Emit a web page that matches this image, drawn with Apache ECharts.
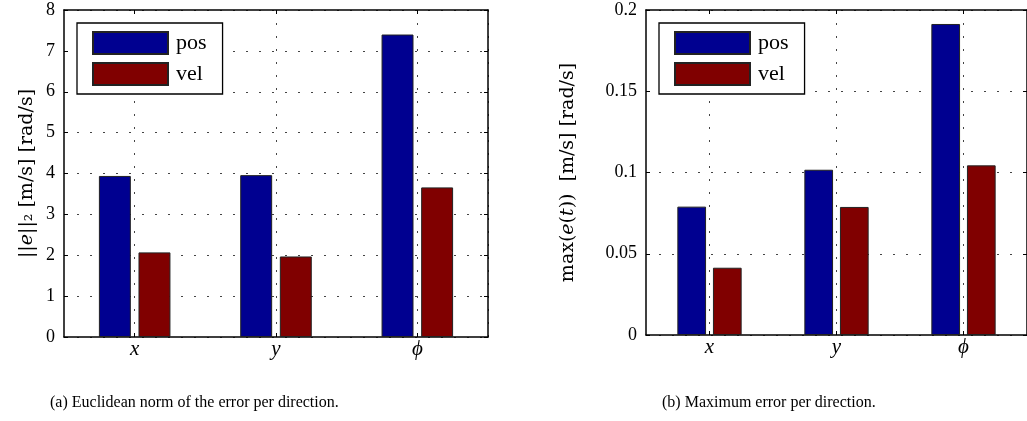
<!DOCTYPE html>
<html>
<head>
<meta charset="utf-8">
<script src="https://cdn.jsdelivr.net/npm/echarts@6/dist/echarts.min.js"></script>
<style>
html,body{margin:0;padding:0;background:#fff;}
#c{width:1027px;height:421px;}
</style>
</head>
<body>
<div id="c"></div>
<script>
var categories = ['x', 'y', 'ϕ'];
var seriesNames = ['pos', 'vel'];
var normPos = [3.94, 3.96, 7.40];
var normVel = [2.07, 1.97, 3.66];
var maxPos = [0.0790, 0.1017, 0.1914];
var maxVel = [0.0414, 0.0788, 0.1044];
var captionA = '(a) Euclidean norm of the error per direction.';
var captionB = '(b) Maximum error per direction.';

var SERIF = '"Liberation Serif", "DejaVu Serif", serif';
var NAMEFONT = '"DejaVu Serif", serif';
var colors = ['#000090', '#800000'];
var gridDash = {type: [2, 11], color: '#444', width: 1};

// half-band helper categories: split lines drawn at the centres of the real categories
var halfCats = [];
categories.forEach(function (c) { halfCats.push(c + '-l', c + '-r'); });

function mkX(gi, pos) {
  return {
    type: 'category', gridIndex: gi, data: categories, position: pos,
    axisLine: {show: true, onZero: false, lineStyle: {color: '#000', width: 1.5}},
    axisTick: {show: true, inside: true, alignWithLabel: true, length: 4, lineStyle: {color: '#000'}},
    axisLabel: pos === 'bottom' ? {show: true, fontFamily: SERIF, fontStyle: 'italic', fontSize: 21, color: '#000', margin: 2} : {show: false},
    splitLine: {show: false}
  };
}
function mkGridX(gi) {
  return {
    type: 'category', gridIndex: gi, data: halfCats, position: 'bottom',
    axisLine: {show: false}, axisTick: {show: false}, axisLabel: {show: false},
    splitLine: {show: true, interval: function (idx) { return idx % 2 === 1; }, lineStyle: gridDash}
  };
}
function mkY(gi, pos, max, interval, name, gap) {
  return {
    type: 'value', gridIndex: gi, position: pos, min: 0, max: max, interval: interval,
    name: pos === 'left' ? name : '', nameLocation: 'middle', nameRotate: 90, nameGap: gap,
    nameTextStyle: {fontFamily: NAMEFONT, fontSize: 19, color: '#000', rich: {i: {fontFamily: NAMEFONT, fontStyle: 'italic', fontSize: 19, color: '#000'}}},
    axisLine: {show: true, lineStyle: {color: '#000', width: 1.5}},
    axisTick: {show: true, inside: true, length: 4, lineStyle: {color: '#000'}},
    axisLabel: pos === 'left' ? {show: true, fontFamily: SERIF, fontSize: 18, color: '#000', margin: 9} : {show: false},
    splitLine: pos === 'left' ? {show: true, lineStyle: gridDash} : {show: false}
  };
}
function mkBar(name, gi, data, color) {
  return {
    name: name, type: 'bar', xAxisIndex: gi * 3, yAxisIndex: gi * 2, data: data,
    barWidth: '22.6%', barGap: '24%',
    itemStyle: {color: color, borderColor: '#222', borderWidth: 1},
    emphasis: {disabled: true}
  };
}
function mkLegend(left) {
  return {
    data: seriesNames, orient: 'vertical', left: left, top: 23,
    padding: [8, 16, 8, 15], itemWidth: 75, itemHeight: 22, itemGap: 7,
    icon: 'rect', backgroundColor: '#fff', borderColor: '#000', borderWidth: 1.3,
    textStyle: {fontFamily: SERIF, fontSize: 22, color: '#000', padding: [0, 0, 0, 3]},
    selectedMode: false
  };
}

var chart = echarts.init(document.getElementById('c'), null, {renderer: 'canvas'});
chart.setOption({
  animation: false,
  backgroundColor: '#fff',
  color: colors,
  title: [
    {text: captionA, left: 50, top: 395, padding: 0, textStyle: {fontFamily: SERIF, fontWeight: 'normal', fontSize: 16, color: '#000'}},
    {text: captionB, left: 662, top: 395, padding: 0, textStyle: {fontFamily: SERIF, fontWeight: 'normal', fontSize: 16, color: '#000'}}
  ],
  legend: [mkLegend(77), mkLegend(659)],
  grid: [
    {left: 64, top: 10, width: 424, height: 327},
    {left: 646, top: 10, width: 384, height: 325}
  ],
  xAxis: [mkX(0, 'bottom'), mkX(0, 'top'), mkGridX(0), mkX(1, 'bottom'), mkX(1, 'top'), mkGridX(1)],
  yAxis: [
    mkY(0, 'left', 8, 1, '||{i|e}||₂ [m/s] [rad/s]', 27),
    mkY(0, 'right', 8, 1, '', 0),
    mkY(1, 'left', 0.2, 0.05, 'max({i|e}({i|t}))  [m/s] [rad/s]', 68),
    mkY(1, 'right', 0.2, 0.05, '', 0)
  ],
  series: [
    mkBar(seriesNames[0], 0, normPos, colors[0]),
    mkBar(seriesNames[1], 0, normVel, colors[1]),
    mkBar(seriesNames[0], 1, maxPos, colors[0]),
    mkBar(seriesNames[1], 1, maxVel, colors[1])
  ]
});
</script>
</body>
</html>
